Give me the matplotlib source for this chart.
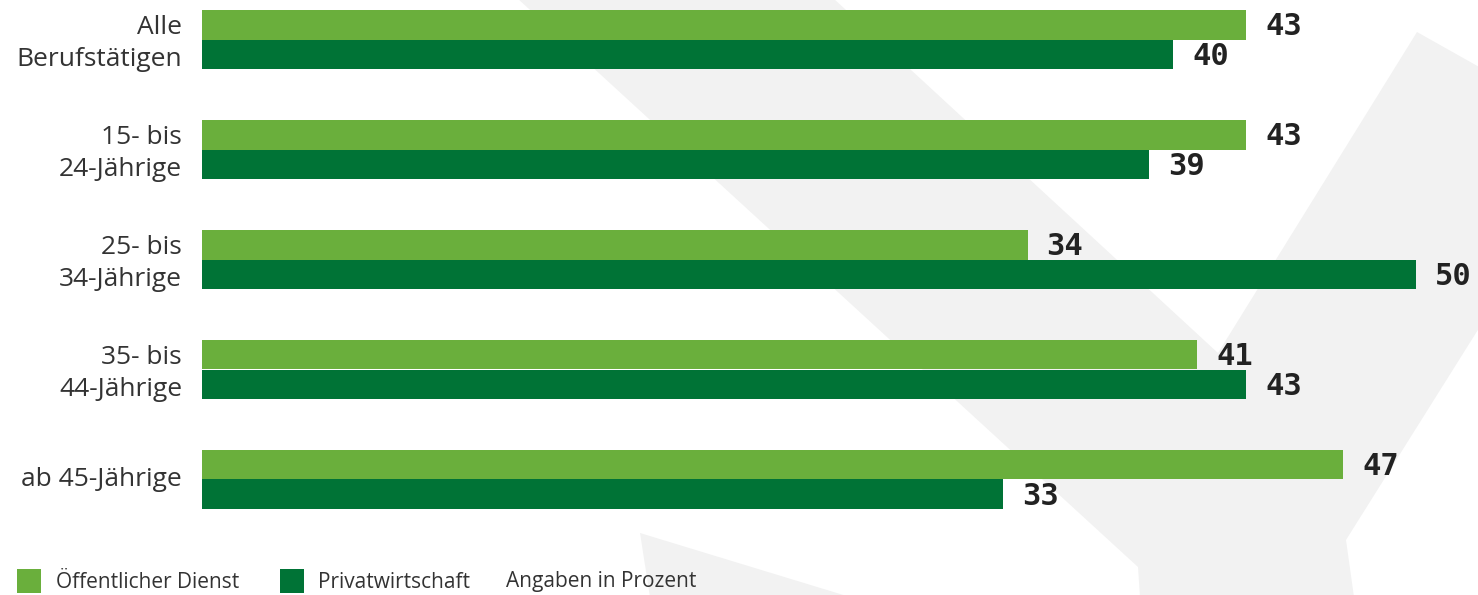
import matplotlib
matplotlib.use("Agg")
import matplotlib.pyplot as plt
from matplotlib.patches import Polygon, Rectangle
from matplotlib.transforms import ScaledTranslation
import numpy as np

categories = ["Alle\nBerufstätigen", "15- bis\n24-Jährige", "25- bis\n34-Jährige",
              "35- bis\n44-Jährige", "ab 45-Jährige"]
oeffentlich = [43, 43, 34, 41, 47]
privat = [40, 39, 50, 43, 33]
series_names = ["Öffentlicher Dienst", "Privatwirtschaft"]
note = "Angaben in Prozent"

C_LIGHT = "#6aaf3c"
C_DARK = "#007336"
C_WM = "#f2f2f2"
LABEL_FONT = ["Open Sans", "DejaVu Sans"]

W, H = 1478, 595
fig = plt.figure(figsize=(W / 100, H / 100), dpi=100)
fig.patch.set_facecolor("white")

# background watermark (decorative)
bg = fig.add_axes([0, 0, 1, 1], zorder=0)
bg.set_xlim(0, W)
bg.set_ylim(H, 0)
bg.axis("off")
shape = [(517, -2), (1138, 567), (1140, 597), (1354, 597), (1346, 540), (1481, 325),
         (1481, 68), (1417, 32), (1218, 353), (833, -2)]
bg.add_patch(Polygon(shape, closed=True, facecolor=C_WM, edgecolor="none"))
foot = [(640, 533), (850, 597), (650, 597)]
bg.add_patch(Polygon(foot, closed=True, facecolor=C_WM, edgecolor="none"))

# legend (manual)
bg.add_patch(Rectangle((17, 569), 24, 24, facecolor=C_LIGHT, edgecolor="none"))
bg.add_patch(Rectangle((280, 569), 24, 24, facecolor=C_DARK, edgecolor="none"))
leg_kw = dict(fontsize=15, color="#333333", va="center", ha="left", family=LABEL_FONT)
bg.text(56, 582, series_names[0], **leg_kw)
bg.text(318, 582, series_names[1], **leg_kw)
bg.text(506, 582, note, **leg_kw)

# main axes
px_per_unit = 24.28
x0 = 202
ax = fig.add_axes([x0 / W, 0, 1 - x0 / W, 1], zorder=1)
ax.patch.set_alpha(0)
ax.set_xlim(0, (W - x0) / px_per_unit)
pitch = 110.0
top = -39.5 / pitch
ax.set_ylim(top + H / pitch, top)

y = np.arange(len(categories))
bh = 29.5 / pitch
ax.barh(y - bh / 2, oeffentlich, height=bh, color=C_LIGHT, label=series_names[0])
ax.barh(y + bh / 2, privat, height=bh, color=C_DARK, label=series_names[1])

val_kw = dict(fontsize=22, fontweight="bold", family="DejaVu Sans Mono",
              color="#222222", va="center", ha="left")
off = 19 / px_per_unit
dy = 2 / pitch
for i in range(len(categories)):
    ax.text(oeffentlich[i] + off, y[i] - bh / 2 + dy, str(oeffentlich[i]), **val_kw)
    ax.text(privat[i] + off, y[i] + bh / 2 + dy, str(privat[i]), **val_kw)

ax.set_yticks(y)
ax.set_yticklabels(categories, fontsize=19, color="#333333", ha="right",
                   linespacing=1.4, family=LABEL_FONT)
ax.tick_params(axis="y", length=0, pad=20 * 0.72)
shift = ScaledTranslation(0, 3 / 100, fig.dpi_scale_trans)
for lbl in ax.get_yticklabels():
    lbl.set_transform(lbl.get_transform() + shift)
ax.set_xticks([])
for s in ax.spines.values():
    s.set_visible(False)

fig.savefig("out.png", dpi=100)
